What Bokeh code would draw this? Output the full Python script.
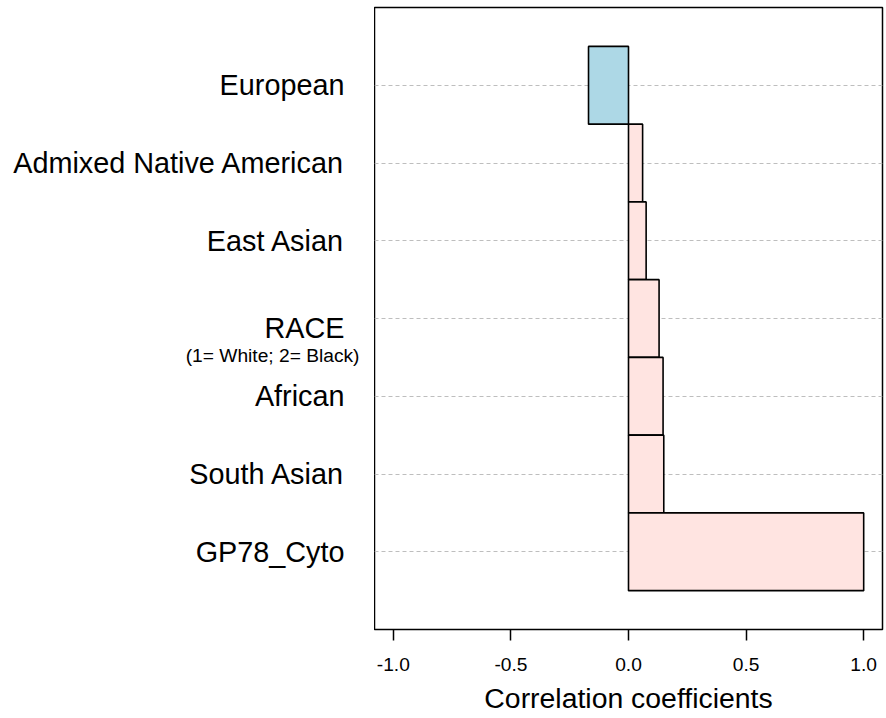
from bokeh.plotting import figure
from bokeh.layouts import row
from bokeh.models import Range1d, FixedTicker, ColumnDataSource
from bokeh.core.properties import value
from bokeh.embed import file_html
from bokeh.resources import INLINE

# Correlation of each variable with GP78_Cyto, listed top to bottom
categories = ["European", "Admixed Native American", "East Asian", "RACE",
              "African", "South Asian", "GP78_Cyto"]
subtitles = ["", "", "", "(1= White; 2= Black)", "", "", ""]
correlations = [-0.17, 0.06, 0.075, 0.13, 0.147, 0.15, 1.0]
x_ticks = [-1.0, -0.5, 0.0, 0.5, 1.0]

FONT = "Liberation Sans"
BIG = "28.8px"
SMALL = "19.2px"
n = len(categories)
ypos = [n - i for i in range(n)]
colors = ["#ADD8E6" if v < 0 else "#FFE4E1" for v in correlations]
y_range = Range1d(0, 8)

LEFT_W = 374
TOP, BOTTOM = 7, 89

# ---- bar panel ----
src = ColumnDataSource(dict(y=ypos, right=correlations, color=colors))

p = figure(width=886 - LEFT_W, height=718,
           x_range=Range1d(-1.08, 1.08), y_range=y_range,
           output_backend="svg", toolbar_location=None,
           min_border_left=0, min_border_right=4,
           min_border_top=TOP, min_border_bottom=BOTTOM)

p.hbar(y="y", left=0, right="right", height=1.0, source=src,
       fill_color="color", line_color="black", line_width=1.6)

p.outline_line_color = "black"
p.outline_line_width = 1.5
p.outline_line_alpha = 1.0
p.background_fill_color = "white"
p.border_fill_color = "white"

# horizontal dashed guides at each variable
p.xgrid.visible = False
p.ygrid.ticker = FixedTicker(ticks=ypos)
p.ygrid.grid_line_color = "#BEBEBE"
p.ygrid.grid_line_dash = "4 3"
p.ygrid.grid_line_width = 1

p.yaxis.visible = False

xa = p.xaxis[0]
xa.ticker = FixedTicker(ticks=x_ticks)
xa.major_label_overrides = {t: f"{t:.1f}" for t in x_ticks}
xa.axis_line_color = None
xa.major_tick_out = 11
xa.major_tick_in = 0
xa.major_tick_line_width = 1.5
xa.minor_tick_line_color = None
xa.major_label_text_font = FONT
xa.major_label_text_font_size = SMALL
xa.major_label_text_color = "black"
xa.major_label_standoff = 17
xa.axis_label = "Correlation coefficients"
xa.axis_label_text_font = FONT
xa.axis_label_text_font_size = "28.4px"
xa.axis_label_text_font_style = "normal"
xa.axis_label_text_color = "black"
xa.axis_label_standoff = 8

# ---- variable names panel ----
lab = figure(width=LEFT_W, height=718,
             x_range=Range1d(0, LEFT_W), y_range=y_range,
             output_backend="svg", toolbar_location=None,
             min_border_left=0, min_border_right=0,
             min_border_top=TOP, min_border_bottom=BOTTOM)
lab.axis.visible = False
lab.grid.visible = False
lab.outline_line_color = None
lab.background_fill_color = "white"
lab.border_fill_color = "white"

name_offset = [9 if s else 0 for s in subtitles]
name_src = ColumnDataSource(dict(y=ypos, text=categories, dy=name_offset))
lab.text(x=LEFT_W - 30, y="y", text="text", y_offset="dy", source=name_src,
         text_align="right", text_baseline="middle",
         text_font=value(FONT), text_font_size=value(BIG), text_color="black")

sub_rows = [i for i, s in enumerate(subtitles) if s]
sub_src = ColumnDataSource(dict(y=[ypos[i] for i in sub_rows],
                                text=[subtitles[i] for i in sub_rows]))
lab.text(x=LEFT_W - 15, y="y", text="text", y_offset=37, source=sub_src,
         text_align="right", text_baseline="middle",
         text_font=value(FONT), text_font_size=value(SMALL), text_color="black")

layout = row(lab, p)
open("out.html", "w").write(file_html(layout, INLINE))
